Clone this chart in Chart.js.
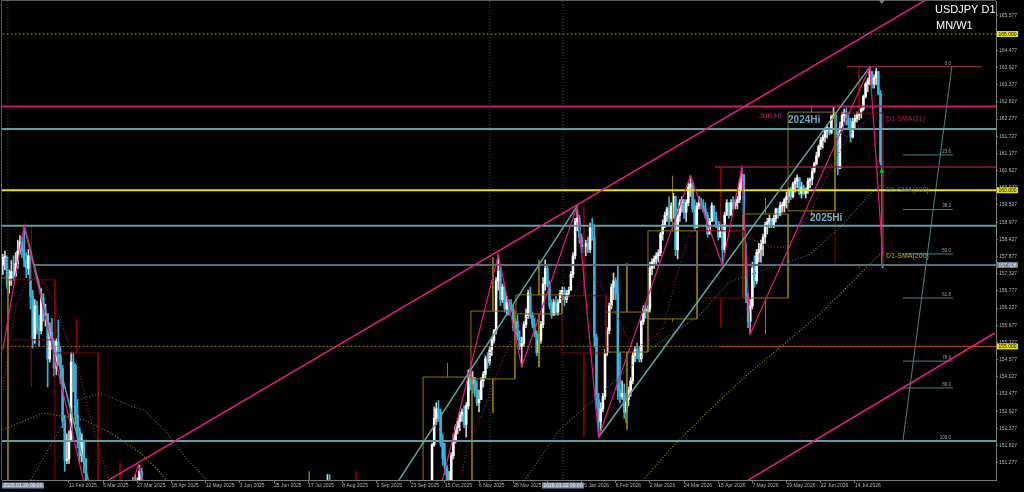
<!DOCTYPE html>
<html>
<head>
<meta charset="utf-8">
<script src="https://cdn.jsdelivr.net/npm/chart.js@4.4.1/dist/chart.umd.min.js"></script>
<style>
  html, body { margin: 0; padding: 0; background: #000; overflow: hidden; }
  canvas { display: block; }
</style>
</head>
<body>
<canvas id="usdjpyChart" width="1024" height="492"></canvas>
<script>
// x axis: bar index, a date label every 16 bars
var tickBars = [31, 47, 63, 79, 95, 111, 127, 143, 159, 175, 191, 207, 223, 239, 255, 271, 287, 303, 319, 335, 351, 367, 383, 399];
var tickLabels = ['11 Feb 2025', '5 Mar 2025', '27 Mar 2025', '18 Apr 2025', '12 May 2025', '3 Jun 2025', '25 Jun 2025',
  '17 Jul 2025', '8 Aug 2025', '1 Sep 2025', '23 Sep 2025', '15 Oct 2025', '6 Nov 2025', '28 Nov 2025', '22 Dec 2025',
  '15 Jan 2026', '6 Feb 2026', '2 Mar 2026', '24 Mar 2026', '15 Apr 2026', '7 May 2026', '29 May 2026', '22 Jun 2026', '14 Jul 2026'];

// right price scale
var priceTicks = [151.277, 151.827, 152.377, 152.927, 153.477, 154.027, 154.577, 155.127, 155.677, 156.227, 156.777,
  157.327, 157.877, 158.427, 158.977, 159.527, 160.077, 160.627, 161.177, 161.727, 162.277, 162.827, 163.377,
  163.927, 164.477, 165.027, 165.577];

// daily candles [high, low, close], open = previous close
var janFeb25Start = 0, janFeb25Open = 157.6;
var janFeb25 = [
  [157.95,157.3,157.85],[158.05,157.45,157.85],[157.9,156.85,156.95],[157.45,156.7,157.2],[157.75,156.95,157.4],
  [157.9,157.1,157.25],[158.0,157.25,157.65],[158.4,157.5,158.05],[158.55,157.95,158.35],[158.5,157.85,158.1],
  [158.87,157.55,157.75],[158.0,157.2,157.5],[158.1,157.3,157.9],[157.9,156.2,156.6],[156.8,154.95,155.25],
  [156.5,155.1,156.3],[156.45,155.4,155.6],[156.0,155.0,155.5],[156.85,155.4,156.55],[156.7,155.8,156.0],
  [156.35,155.65,156.05],[155.9,153.7,154.6],[155.75,154.5,155.45],[155.9,154.9,155.2],[155.25,154.05,154.3],
  [155.25,154.1,155.15],[155.85,154.4,154.7],[155.0,153.8,154.3],[154.4,152.4,152.6],[152.8,151.0,151.35],
  [152.2,151.25,151.4],[152.3,151.25,152.0],[154.8,151.95,154.5],[154.8,153.55,154.4],[154.45,152.5,152.8],
  [153.3,151.75,152.3],[152.4,151.3,151.5],[152.2,151.3,152.0],[152.0,150.95,151.4],[151.4,149.4,149.7],
  [150.4,149.3,150.0],[150.4,149.1,149.3]
];
var mar25Start = 58, mar25Open = 148.7;
var mar25 = [
  [149.5,148.2,149.3],[150.3,149.2,149.6],[150.2,149.0,149.3],[150.8,149.2,150.7],[150.9,149.5,149.9],
  [150.8,149.6,150.6],[151.2,150.3,151.0],[151.1,149.7,149.8],[150.0,149.3,149.9]
];
var jul25Start = 152, jul25Open = 149.4;
var jul25 = [[150.9,149.2,150.7],[150.9,147.0,147.4]];
var oct25Start = 199, oct25Open = 147.2;
var oct25 = [
  [147.9,147.0,147.5],[150.5,149.0,150.3],[151.9,150.0,151.85],[153.06,151.8,152.7],[153.2,152.5,153.0],
  [153.27,152.6,152.9],[153.0,151.8,151.9],[152.2,151.2,151.4],[151.9,150.9,151.1],[151.2,150.4,150.5],
  [151.0,150.3,150.6],[151.6,150.5,151.5],[152.2,151.4,152.0],[152.5,151.9,152.4],[152.7,152.2,152.6],
  [152.9,152.3,152.8],[153.0,152.6,152.9],[153.1,152.4,152.5],[153.2,152.1,153.1],[154.25,153.0,154.1],
  [154.3,153.6,153.8],[154.2,153.5,154.0],[154.0,153.4,153.6],[153.9,153.1,153.2],[153.6,152.9,153.3],
  [154.0,153.3,153.9],[154.2,153.7,154.1],[154.7,154.0,154.6],[154.8,154.3,154.5],[155.0,154.4,154.9],
  [155.3,154.7,155.2],[155.55,155.1,155.5],[157.2,155.4,157.1],[157.93,156.8,157.4],[157.6,156.3,156.5],
  [157.0,156.4,156.9],[156.9,156.1,156.2],[156.6,156.0,156.4],[156.5,156.0,156.3],[156.5,156.1,156.2],
  [156.3,155.5,155.6],[155.9,155.4,155.8],[156.0,155.2,155.3],[155.5,154.9,155.0],[155.3,154.35,155.1],
  [155.8,155.0,155.7],[156.2,155.6,156.0],[156.8,155.9,156.7],[156.9,155.9,156.0],[156.1,155.6,155.7],
  [155.9,155.3,155.4],[155.5,154.7,154.8],[155.4,154.35,155.2],[155.8,155.1,155.7],[157.2,155.6,157.0],
  [157.77,156.8,157.5],[157.6,156.9,157.0],[157.1,156.2,156.3],[156.5,155.9,156.0],[156.5,156.0,156.4],
  [156.6,156.0,156.1],[156.5,156.0,156.4],[156.8,156.4,156.7],[156.9,156.5,156.8],[156.9,156.3,156.5],
  [156.8,156.4,156.7],[156.9,156.6,156.8],[157.4,156.8,157.3],[158.0,157.2,157.9],[159.1,157.8,159.0],
  [159.5,158.7,159.1],[159.2,158.3,158.5],[158.6,158.0,158.2],[158.4,158.0,158.2],[158.4,157.9,158.3],
  [158.5,158.0,158.1],[158.95,158.0,158.8],[159.1,158.4,158.5],
  [158.9,154.98,155.3],[155.4,153.0,153.3],[153.5,152.1,152.6],[153.2,152.3,153.0],[153.5,152.9,153.4],
  [154.9,153.3,154.8],[155.6,154.7,155.5],[156.4,155.4,156.3],[157.0,156.2,156.9],[157.35,156.5,157.1],
  [157.2,156.5,156.7],[157.6,153.3,153.6],[154.8,153.2,153.4],[153.9,153.3,153.5],[153.8,152.7,152.9],
  [153.5,152.55,153.3],[153.7,153.1,153.6],[154.0,153.4,153.9],[154.8,153.8,154.7],[155.0,154.5,154.9],
  [155.1,154.6,154.8],[155.0,154.5,154.6],[155.85,154.5,155.8],[156.3,155.7,156.2],[156.4,155.9,156.1],
  [156.3,155.9,156.2],[157.7,156.1,157.5],[157.8,157.3,157.7],[157.9,157.5,157.8],[158.0,157.6,157.9],
  [158.1,157.7,158.0],[158.65,157.9,158.6],[159.05,158.4,158.9],[159.3,158.8,159.2],[159.46,159.0,159.4],
  [159.78,158.9,159.1],[159.6,159.0,159.5],[159.9,159.1,159.8],[159.8,157.9,158.1],[159.4,157.8,159.2],
  [159.7,159.0,159.6],[159.8,159.3,159.7],[159.6,159.1,159.3],[159.7,159.0,159.6],[160.23,159.5,160.1],
  [160.46,159.8,160.2],[160.3,159.3,159.4],[159.7,158.7,158.8],[159.6,158.8,159.5],[159.8,159.4,159.6],
  [159.75,159.4,159.5],[159.7,159.3,159.4],[159.6,159.1,159.2],[159.3,158.5,158.6],[159.1,158.7,159.0],
  [159.6,159.0,159.5],[159.4,159.0,159.1],[159.3,158.8,158.9],[159.0,158.4,158.5],[159.0,158.5,158.9],
  [158.8,157.6,158.1],[159.3,158.0,159.2],[159.7,159.2,159.6],[159.6,159.1,159.2],[159.7,159.2,159.6],
  [159.8,159.4,159.5],[159.7,159.4,159.6],[159.8,159.4,159.7],[160.35,159.6,160.2],[160.71,160.0,160.5],
  [160.5,157.6,157.8],[158.3,156.4,156.6],[156.7,155.6,155.8],[156.5,155.4,156.3],[157.7,156.2,157.5],
  [157.9,156.9,157.1],[158.1,157.0,158.0],[158.3,157.7,158.1],[158.4,157.7,158.3],[158.6,157.9,158.5],
  [158.98,158.3,158.9],[159.1,158.6,159.0],[159.2,158.8,159.1],[159.1,158.8,158.9],[159.2,158.8,159.1],
  [159.43,158.98,159.4],[159.43,159.1,159.2],[159.62,159.2,159.5],[159.62,159.3,159.5],[159.75,159.3,159.7],
  [159.94,159.43,159.8],[160.07,159.6,160.0],[160.1,159.7,159.8],[160.26,159.75,160.2],[160.39,159.94,160.3],
  [160.49,160.07,160.4],[160.4,159.85,159.9],[160.26,159.75,160.1],[160.17,159.85,159.9],[160.07,159.75,160.0],
  [160.39,159.9,160.3],[160.4,160.07,160.35],[160.71,160.17,160.6],[160.9,160.55,160.85],[161.22,160.81,161.1],
  [161.45,161.05,161.4],[161.7,161.3,161.6],[161.77,161.35,161.7],[161.99,161.54,161.9],[162.09,161.67,162.0],
  [162.0,161.77,161.85],[162.41,161.8,162.35],[162.67,162.3,162.4],[162.5,161.7,161.8],[161.9,160.5,160.7],
  [162.18,160.7,162.0],[162.5,161.9,162.4],[162.6,162.2,162.5],[162.63,162.09,162.3],[162.5,161.99,162.1],
  [162.3,161.54,161.7],[162.31,161.67,162.2],[162.41,161.99,162.3],[162.5,162.18,162.4],[162.55,162.25,162.5],
  [162.63,162.31,162.6],[163.05,162.55,163.0],[163.46,162.95,163.4],[163.59,163.15,163.5],[163.95,163.37,163.8],
  [163.79,163.27,163.4],[163.69,163.27,163.6],[163.9,163.37,163.8],[163.69,163.05,163.1],[163.2,160.81,160.9],
  [160.9,157.51,157.61]
];

// monthly candles drawn as boxes (MN)
var monthNames = ['Dec 2024','Jan 2025','Feb 2025','Mar 2025','Jul 2025','Aug 2025','Oct 2025','Nov 2025','Dec 2025',
  'Jan 2026','Feb 2026','Mar 2026','Apr 2026','May 2026','Jun 2026','Jul 2026'];
var monthStart = [-18.6, 2.4, 24.4, 44.6, 132, 155, 196.8, 219.2, 240.3, 261.8, 282.4, 302.1, 325.1, 346.6, 367.7, 389.7];
var monthEnd = [2.4, 24.4, 44.6, 65.2, 155, 176, 219.7, 239.8, 261.8, 282.4, 302.1, 325.1, 347.1, 367.7, 389.7, 412.2];
var monthOpen = [149.8, 157.13, 154.79, 150.6, 144.0, 150.7, 147.9, 153.96, 156.04, 156.62, 154.82, 155.88, 158.7, 156.55, 159.34, 162.47];
var monthHigh = [158.08, 158.89, 155.91, 151.3, 151.0, 151.0, 154.47, 157.86, 157.77, 159.5, 157.67, 160.46, 160.71, 159.75, 162.67, 163.95];
var monthLow = [148.6, 153.7, 149.0, 146.5, 142.6, 146.2, 146.5, 152.87, 154.34, 152.1, 152.33, 155.8, 155.59, 155.4, 159.2, 157.51];
var monthClose = [157.19, 155.21, 150.6, 149.9, 150.7, 147.0, 154.02, 156.13, 156.65, 154.79, 156.1, 158.7, 156.55, 159.24, 162.5, 157.61];

// moving averages, read at sample bars
var sma21Bars = [0, 2.8, 6, 10.7, 14.5, 20, 24.8, 28.5, 35, 41, 45.8, 50.5, null,
  214.8, 217, 226.5, 232.7, 240.5, 246.7, 257.6, 267, 273.2, 280, 290, 295, 302.8, 309, 315.4, 321.5, 326, 337, 343.5,
  349.5, 359, 366, 373, 380, 387, 396, 405.6, 411.5];
var sma21Values = [153.6, 155.0, 156.3, 157.0, 157.2, 156.97, 156.33, 155.53, 154.41, 152.71, 151.59, 150.56, null,
  150.83, 151.69, 153.18, 154.35, 155.53, 156.06, 156.49, 156.59, 157.34, 157.0, 155.62, 154.89, 155.21, 155.53, 157.22,
  158.63, 158.82, 158.95, 158.73, 158.47, 158.18, 158.18, 158.66, 159.53, 160.65, 161.77, 162.31, 162.31];
var sma100Bars = [10, 13, 25.7, 35, 45.8, 61.2, 65.9, 77, 86.4, 92.5, 97, null,
  240, 244.4, 260.7, 279.4, 302.8, 326.2, 340.2, 358.9, 377.6, 391.6, 408.9, 411.5];
var sma100Values = [150.3, 150.72, 152.23, 153.29, 153.51, 153.06, 152.97, 152.23, 151.37, 150.95, 150.56, null,
  150.2, 150.72, 152.33, 153.45, 154.89, 156.0, 157.06, 157.51, 157.93, 158.79, 160.07, 160.17];
var sma200Bars = [0, 19, 37.9, 50.5, 64.5, 73.8, 78.5, null,
  297.9, 312.1, 330.8, 349.5, 368.2, 382.2, 396.3, 410.3, 411.7];
var sma200Values = [152.33, 152.87, 152.65, 152.23, 151.59, 150.95, 150.56, null,
  150.56, 151.68, 152.96, 154.15, 155.21, 156.01, 156.97, 157.93, 157.99];

// zigzag swing points
var zigzagBars = [0, 10, 38.5, null, 59.5, 63.5, 67, null,
  192.4, 232, 243, 269, 279, 322, 337, 346, 350, 406, 412];
var zigzagPrices = [154.9, 158.87, 150.5, null, 150.4, 151.2, 150.4, null,
  147.0, 157.93, 154.35, 159.5, 152.1, 160.46, 157.6, 160.71, 155.4, 163.95, 157.9];

// trend lines [bar, price] pairs
var tealLineBars = [[10, 40.5], [185.5, 269], [279, 406]];
var tealLinePrices = [[158.87, 150.6], [150.72, 159.5], [152.1, 163.95]];
var channelBars = [[49.5, 432.2], [349, 464.5]];
var channelPrices = [[150.72, 166.09], [150.72, 155.43]];

// horizontal levels
var levelNames = ['165.000', 'Jun.Hi', '2024Hi', 'Apr.Hi', '160.000', '2025Hi', 'Bid', '155.000', '155 zone', 'Fib 100'];
var levelPrices = [165.0, 162.68, 161.96, 160.74, 160.0, 158.86, 157.608, 155.0, 155.0, 151.97];
var levelFromBar = [-2, -2, -2, 333.5, -2, -2, 14.1, -2, 335.8, -2];

// fibonacci retracement
var fibNames = ['0.0', '23.6', '38.2', '50.0', '61.8', '78.6', '86.0', '100.0'];
var fibPrices = [163.95, 161.13, 159.38, 157.96, 156.55, 154.53, 153.67, 151.97];
var fibSpanBars = [421.5, 444.9];
var fibTrendBars = [421.5, 444.4];

var separatorBars = [2.4, 228.1, 262.3];

// ---- build datasets ----
var bullBody = '#ffffff', bullWick = '#d0d0d0', bearColor = '#38b4e0';
var wickData = [], wickColors = [], bodyData = [], bodyColors = [];

function addSegment(start, open, rows) {
  var prev = open;
  rows.forEach(function (r, i) {
    var c = r[2];
    var h = Math.max(r[0], prev, c), l = Math.min(r[1], prev, c);
    var up = c >= prev;
    wickData.push({ x: start + i, y: [l, h] });
    wickColors.push(up ? bullWick : bearColor);
    bodyData.push({ x: start + i, y: [Math.min(prev, c), Math.max(prev, c)] });
    bodyColors.push(up ? bullBody : bearColor);
    prev = c;
  });
}
addSegment(janFeb25Start, janFeb25Open, janFeb25);
addSegment(mar25Start, mar25Open, mar25);
addSegment(jul25Start, jul25Open, jul25);
addSegment(oct25Start, oct25Open, oct25);

function pts(bars, prices) {
  return bars.map(function (b, i) { return b === null ? { x: null, y: null } : { x: b, y: prices[i] }; });
}
function lineSet(points, color, width, dash, order) {
  return {
    type: 'line', data: points, borderColor: color, borderWidth: width, borderDash: dash || [],
    pointRadius: 0, fill: false, tension: 0, spanGaps: false, order: order
  };
}

var datasets = [
  { type: 'bar', data: wickData, backgroundColor: wickColors, barThickness: 1, grouped: false, borderWidth: 0, order: 20 },
  { type: 'bar', data: bodyData, backgroundColor: bodyColors, barThickness: 1.9, grouped: false, borderWidth: 0, minBarLength: 1, order: 19 }
];

// monthly boxes
monthStart.forEach(function (s, i) {
  var e = monthEnd[i], o = monthOpen[i], c = monthClose[i], mid = (s + e) / 2;
  var col = c >= o ? '#8c7800' : '#8b0000';
  var top = Math.max(o, c), bot = Math.min(o, c);
  datasets.push(lineSet([{x:s,y:top},{x:e,y:top},{x:e,y:bot},{x:s,y:bot},{x:s,y:top}], col, 1, [], 6));
  datasets.push(lineSet([{x:mid,y:monthHigh[i]},{x:mid,y:top}], col, 1, [], 6));
  datasets.push(lineSet([{x:mid,y:bot},{x:mid,y:monthLow[i]}], col, 1, [], 6));
});

// moving averages
datasets.push(lineSet(pts(sma21Bars, sma21Values), '#9a1c52', 1.2, [1, 2], 5));
datasets.push(lineSet(pts(sma100Bars, sma100Values), '#3f6e70', 1.2, [1, 2], 5));
datasets.push(lineSet(pts(sma200Bars, sma200Values), '#8f8f00', 1.2, [1, 2], 5));

// separators
separatorBars.forEach(function (b) {
  datasets.push(lineSet([{x:b,y:140},{x:b,y:170}], '#4a4a4a', 1, [1, 2], 7));
});

// horizontal levels
var levelStyle = [
  ['#8f8f00', 1, [2, 2]], ['#c8186e', 2, []], ['#5f9ea0', 2, []], ['#8b1a4b', 1.5, []], ['#e6e600', 2, []],
  ['#5f9ea0', 2, []], ['#5a6b78', 2, []], ['#a08000', 1, [2, 2]], ['#b0203a', 1, []], ['#5f9ea0', 2, []]
];
levelPrices.forEach(function (p, i) {
  var st = levelStyle[i];
  datasets.push(lineSet([{x:levelFromBar[i],y:p},{x:470,y:p}], st[0], st[1], st[2], 3));
});

// fib levels
fibPrices.forEach(function (p, i) {
  if (i === 0) {
    datasets.push(lineSet([{x:395.3,y:p},{x:458.4,y:p}], '#c0306a', 1, [], 3));
  } else if (i < fibPrices.length - 1) {
    datasets.push(lineSet([{x:fibSpanBars[0],y:p},{x:fibSpanBars[1],y:p}], '#4a8285', 1, [], 3));
  }
});
datasets.push(lineSet([{x:fibTrendBars[0],y:fibPrices[7]},{x:fibTrendBars[1],y:fibPrices[0]}], '#4a8285', 1, [], 3));

// channel, trend and zigzag lines
channelBars.forEach(function (b, i) {
  datasets.push(lineSet(pts(b, channelPrices[i]), '#ec1c84', 1.5, [], 2));
});
tealLineBars.forEach(function (b, i) {
  datasets.push(lineSet(pts(b, tealLinePrices[i]), '#5fa4a6', 1.5, [], 2));
});
datasets.push(lineSet(pts(zigzagBars, zigzagPrices), '#e8187e', 1.2, [], 1));

// ---- overlay texts ----
var overlay = {
  id: 'overlay',
  afterDraw: function (chart) {
    var c = chart.ctx, xs = chart.scales.x, ys = chart.scales.y, a = chart.chartArea;
    var X = function (b) { return xs.getPixelForValue(b); };
    var Y = function (p) { return ys.getPixelForValue(p); };
    c.save();
    // frame
    c.strokeStyle = '#5a5a5a'; c.lineWidth = 1;
    c.beginPath(); c.moveTo(1.5, a.bottom); c.lineTo(1.5, 0.5); c.lineTo(a.right, 0.5); c.stroke();

    c.textBaseline = 'middle';
    function txt(s, x, y, col, font, align) {
      c.font = font; c.fillStyle = col; c.textAlign = align || 'left'; c.fillText(s, x, y);
    }
    txt('Jun.Hi', X(354.1), Y(162.37), '#d2207e', '8px "Liberation Sans"');
    txt('2024Hi', X(367.7), Y(162.23), '#6aaab6', 'bold 10px "Liberation Sans"');
    txt('2025Hi', X(378), Y(159.1), '#78b2c0', 'bold 10px "Liberation Sans"');
    txt('D1-SMA(21)', X(413.6), Y(162.28), '#b0205c', '7px "Liberation Sans"');
    txt('D1-SMA(100)', X(413.6), Y(160.01), '#4c7878', '7px "Liberation Sans"');
    txt('D1-SMA(200)', X(413.6), Y(157.89), '#b4b400', '7px "Liberation Sans"');

    // fib labels
    fibNames.forEach(function (n, i) {
      txt(n, X(fibSpanBars[1]) - 2, Y(fibPrices[i]) - 3.5, '#a0a0a0', '4.5px "Liberation Sans"', 'right');
    });

    // current bar marker
    c.fillStyle = '#00e000';
    c.fillRect(X(411.6) - 1.5, Y(160.6) - 1.5, 3, 3);
    c.fillStyle = '#808080';
    c.beginPath(); c.moveTo(X(411.6) - 3, 0); c.lineTo(X(411.6) + 3, 0); c.lineTo(X(411.6), 4); c.fill();

    // title
    txt('USDJPY D1', 935, 9.5, '#ffffff', '11px "Liberation Sans"');
    txt('MN/W1', 936, 26, '#ffffff', '11px "Liberation Sans"');

    // price tags on the right axis
    function tag(p, s, bg, fg) {
      var y = Y(p);
      c.fillStyle = bg; c.fillRect(a.right + 1, y - 3, 21, 6);
      txt(s, a.right + 2.5, y + 0.3, fg, '5px "Liberation Sans"');
    }
    tag(165.0, '165.000', '#e6e600', '#000000');
    tag(160.0, '160.000', '#e6e600', '#000000');
    tag(155.0, '155.000', '#e6e600', '#000000');
    tag(157.608, '157.608', '#6c7c8c', '#e8eef4');

    // date tags
    function dateTag(b, s) {
      c.font = '5px "Liberation Sans"';
      var w = c.measureText(s).width + 3;
      var x = Math.max(a.left, X(b) - w / 2);
      c.fillStyle = '#7c8ea3'; c.fillRect(x, a.bottom + 2.5, w, 6);
      txt(s, x + 1.5, a.bottom + 5.6, '#eef2f6', '5px "Liberation Sans"');
    }
    dateTag(separatorBars[0], '2025.01.20 00:00');
    dateTag(separatorBars[2], '2026.01.02 00:00');
    c.restore();
  }
};

var ctx = document.getElementById('usdjpyChart').getContext('2d');
var usdjpyChart = new Chart(ctx, {
  type: 'bar',
  data: { datasets: datasets },
  options: {
    responsive: false,
    animation: false,
    events: [],
    layout: { padding: { left: 2, top: 1, right: 0, bottom: 0 } },
    plugins: { legend: { display: false }, tooltip: { enabled: false } },
    scales: {
      x: {
        type: 'linear', min: -0.373, max: 465.08, offset: false,
        grid: { offset: false, drawOnChartArea: false, drawTicks: true, tickLength: 3, color: '#7a7a7a' },
        border: { display: true, color: '#7a7a7a' },
        ticks: {
          autoSkip: false, maxRotation: 0, align: 'start', padding: 0, color: '#b4b4b4',
          font: { family: '"Liberation Sans"', size: 5 },
          callback: function (v) { var k = tickBars.indexOf(v); return k < 0 ? '' : tickLabels[k]; }
        },
        afterBuildTicks: function (s) { s.ticks = tickBars.map(function (v) { return { value: v }; }); },
        afterFit: function (s) { s.height = 12; s.paddingLeft = 0; s.paddingRight = 0; }
      },
      y: {
        type: 'linear', position: 'right', min: 150.724, max: 166.057,
        grid: { drawOnChartArea: false, drawTicks: true, tickLength: 2, color: '#7a7a7a' },
        border: { display: true, color: '#7a7a7a' },
        ticks: {
          autoSkip: false, padding: 1, color: '#b4b4b4',
          font: { family: '"Liberation Sans"', size: 5 },
          callback: function (v) { return Number(v).toFixed(3); }
        },
        afterBuildTicks: function (s) { s.ticks = priceTicks.map(function (v) { return { value: v }; }); },
        afterFit: function (s) { s.width = 28; s.paddingTop = 0; s.paddingBottom = 0; }
      }
    }
  },
  plugins: [overlay]
});
</script>
</body>
</html>
